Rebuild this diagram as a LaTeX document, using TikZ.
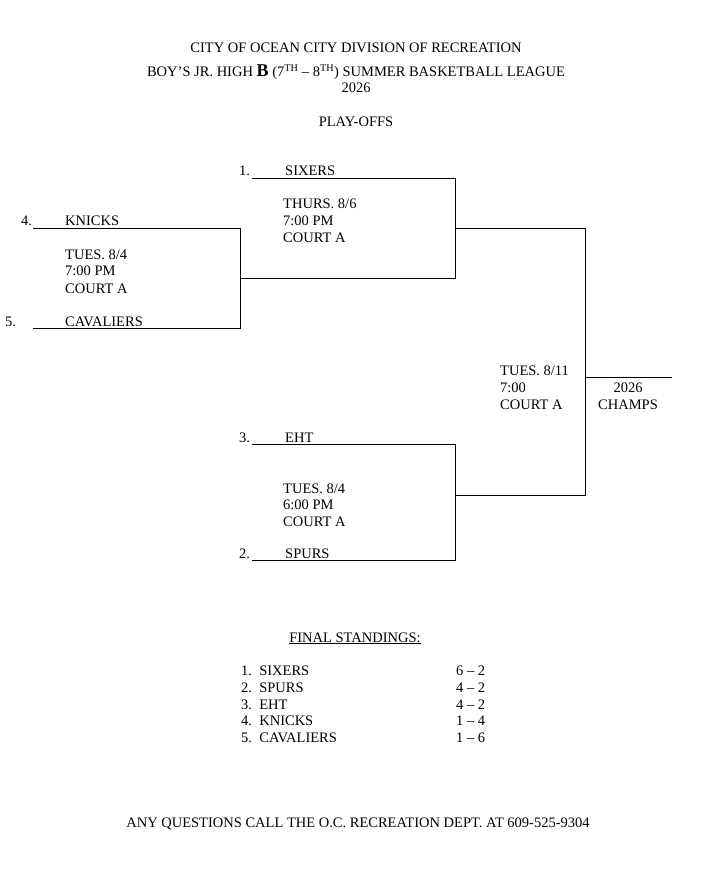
\documentclass[tikz,border=0pt]{standalone}
\usepackage{fontspec}
\setmainfont{Liberation Serif}
\begin{document}
\begin{tikzpicture}[x=1pt,y=-1pt,
  t/.style={font=\fontsize{14.5}{16}\selectfont,inner sep=0pt},
  lab/.style={t,anchor=base west},
  ln/.style={line width=0.6pt}]
\useasboundingbox (0,0) rectangle (714,890);
\node[t,anchor=base] (h1) at (356,53) {CITY OF OCEAN CITY DIVISION OF RECREATION};
\node[t,anchor=base] (h2) at (356,77) {BOY'S JR. HIGH {\fontsize{18}{18}\selectfont\bfseries B} (7\textsuperscript{TH} -- 8\textsuperscript{TH}) SUMMER BASKETBALL LEAGUE};
\node[t,anchor=base] (h3) at (356,93) {2026};
\node[t,anchor=base] (h4) at (356,127) {PLAY-OFFS};
% seed 1
\node[lab] (n1) at (239,176) {1.};
\node[lab] (s1) at (285,176) {SIXERS};
\coordinate (a1) at (252,178); \coordinate (b1) at (455,178);
\coordinate (b2) at (455,278); \coordinate (a2) at (240,278);
\draw[ln] (a1)--(b1)--(b2)--(a2);
\node[lab] at (283,209) {THURS. 8/6};
\node[lab] at (283,226) {7:00 PM};
\node[lab] at (283,243) {COURT A};
% 4 v 5
\node[lab] (n4) at (21,226) {4.};
\node[lab] (s4) at (65,226) {KNICKS};
\node[lab] (n5) at (5,326) {5.};
\node[lab] (s5) at (65,326) {CAVALIERS};
\coordinate (c1) at (33,228); \coordinate (d1) at (240,228);
\coordinate (d2) at (240,328); \coordinate (c2) at (33,328);
\draw[ln] (c1)--(d1)--(d2)--(c2);
\node[lab] at (65,260) {TUES. 8/4};
\node[lab] at (65,276) {7:00 PM};
\node[lab] at (65,293) {COURT A};
% 3 v 2
\node[lab] (n3) at (239,442) {3.};
\node[lab] (s3) at (285,442) {EHT};
\node[lab] (n2) at (239,558) {2.};
\node[lab] (s2) at (285,558) {SPURS};
\coordinate (e1) at (252,444); \coordinate (f1) at (455,444);
\coordinate (f2) at (455,560); \coordinate (e2) at (252,560);
\draw[ln] (e1)--(f1)--(f2)--(e2);
\node[lab] at (283,493) {TUES. 8/4};
\node[lab] at (283,509) {6:00 PM};
\node[lab] at (283,526) {COURT A};
% final
\coordinate (g1) at (455,228); \coordinate (g2) at (585,228);
\coordinate (g3) at (585,495); \coordinate (g4) at (455,495);
\draw[ln] (g1)--(g2)--(g3)--(g4);
\coordinate (k1) at (585,377); \coordinate (k2) at (672,377);
\draw[ln] (k1)--(k2);
\node[lab] at (500,375) {TUES. 8/11};
\node[lab] at (500,392) {7:00};
\node[lab] at (500,409) {COURT A};
\node[t,anchor=base] (ch1) at (628,392) {2026};
\node[t,anchor=base] (ch2) at (628,409) {CHAMPS};
% standings
\node[t,anchor=base] (fs) at (355,642) {\underline{FINAL STANDINGS:}};
\node[lab] at (241,675) {1.\ \ SIXERS};
\node[lab] at (241,692) {2.\ \ SPURS};
\node[lab] at (241,709) {3.\ \ EHT};
\node[lab] at (241,725) {4.\ \ KNICKS};
\node[lab] at (241,742) {5.\ \ CAVALIERS};
\node[lab] at (456,675) {6 -- 2};
\node[lab] at (456,692) {4 -- 2};
\node[lab] at (456,709) {4 -- 2};
\node[lab] at (456,725) {1 -- 4};
\node[lab] at (456,742) {1 -- 6};
\node[t,anchor=base] (ft) at (358,827) {ANY QUESTIONS CALL THE O.C. RECREATION DEPT. AT 609-525-9304};
\end{tikzpicture}
\end{document}
